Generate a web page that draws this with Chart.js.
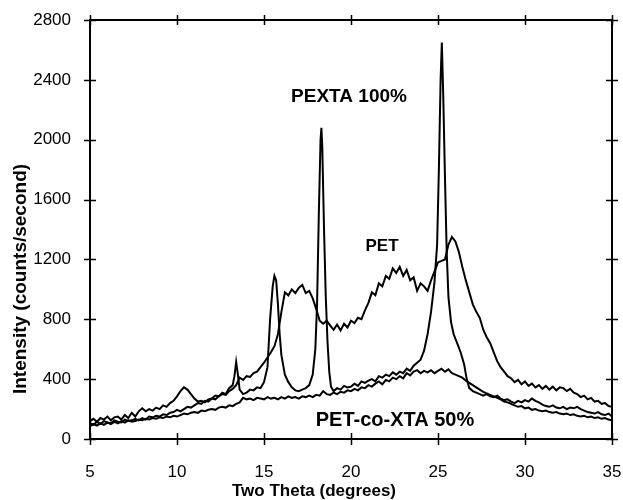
<!DOCTYPE html>
<html>
<head>
<meta charset="utf-8">
<title>XRD - PET / PEXTA</title>
<script src="https://cdn.jsdelivr.net/npm/chart.js@4.4.1/dist/chart.umd.min.js"></script>
<style>
  html, body { margin: 0; padding: 0; background: #fff; }
  #xrdChart { display: block; }
</style>
</head>
<body>
<canvas id="xrdChart" width="623" height="500"></canvas>
<script>
// Diffractograms: intensity (counts/second) against two theta (degrees)

// Axis ticks
const xTicks = [5, 10, 15, 20, 25, 30, 35];
const yTicks = [0, 400, 800, 1200, 1600, 2000, 2400, 2800];

// PET and PET-co-XTA were scanned on the same 0.2 degree grid
const scanStart = 5;
const scanStep = 0.2;

const petCounts = [
  105, 95, 115, 100, 120, 110, 105, 125, 115, 110,
  130, 120, 125, 135, 125, 140, 130, 150, 145, 155,
  150, 165, 160, 175, 180, 195, 185, 200, 215, 210,
  225, 240, 235, 255, 250, 270, 265, 285, 300, 295,
  320, 335, 360, 410, 395, 420, 415, 440, 450, 480,
  510, 545, 580, 620, 700, 850, 980, 960, 1000, 975,
  1010, 1030, 975, 990, 940, 870, 790, 770, 790, 760,
  730, 765, 725, 770, 745, 790, 775, 810, 800, 860,
  910, 980, 960, 1040, 1020, 1090, 1070, 1140, 1110, 1150,
  1090, 1130, 1060, 1080, 990, 1040, 1020, 990, 1060, 1120,
  1180, 1190, 1200, 1300, 1350, 1320, 1250, 1150, 1060, 980,
  900, 850, 810, 730, 680, 640, 580, 520, 480, 450,
  420, 405, 380, 395, 365, 385, 355, 370, 345, 360,
  335, 355, 330, 350, 325, 345, 340, 320, 335, 310,
  300, 280, 290, 265, 275, 250, 255, 235, 240, 220,
  215
];

const copolyCounts = [
  85, 100, 90, 105, 95, 110, 100, 115, 105, 120,
  110, 125, 115, 120, 130, 125, 135, 130, 140, 135,
  145, 140, 150, 145, 155, 150, 160, 170, 165, 175,
  180, 175, 190, 185, 195, 200, 195, 210, 215, 210,
  225, 220, 235, 245, 275, 265, 270, 260, 275, 270,
  265, 280, 270, 275, 265, 280, 270, 285, 275, 280,
  270, 285, 280, 290, 280, 295, 290, 320, 300, 295,
  310, 300, 315, 310, 325, 320, 335, 325, 345, 340,
  360, 350, 370, 385, 365, 395, 385, 410, 400, 420,
  405, 440, 425, 450, 460, 440, 455, 445, 460, 440,
  455, 470, 450, 465, 440, 430, 420, 410, 390, 375,
  360, 345, 330, 315, 305, 295, 285, 275, 265, 250,
  245, 235, 225, 215, 220, 205, 210, 195, 200, 190,
  185, 190, 180, 175, 180, 170, 165, 170, 160, 165,
  155, 150, 155, 145, 150, 140, 145, 135, 140, 130,
  125
];

// PEXTA needs a finer spacing around its sharp reflections
const pextaAngles = [
  5.0, 5.2, 5.4, 5.6, 5.8, 6.0, 6.2, 6.4, 6.6, 6.8,
  7.0, 7.2, 7.4, 7.6, 7.8, 8.0, 8.2, 8.4, 8.6, 8.8,
  9.0, 9.2, 9.4, 9.6, 9.8, 10.0, 10.2, 10.4, 10.6, 10.8,
  11.0, 11.2, 11.4, 11.6, 11.8, 12.0, 12.2, 12.4, 12.6, 12.8,
  13.0, 13.2, 13.3, 13.4, 13.5, 13.6, 13.8, 14.0, 14.2, 14.4,
  14.6, 14.8, 15.0, 15.2, 15.35, 15.5, 15.6, 15.7, 15.8, 15.9,
  16.0, 16.2, 16.4, 16.6, 16.8, 17.0, 17.2, 17.4, 17.6, 17.8,
  17.95, 18.05, 18.15, 18.25, 18.3, 18.35, 18.45, 18.55, 18.65, 18.75,
  18.85, 19.0, 19.2, 19.4, 19.6, 19.8, 20.0, 20.2, 20.4, 20.6,
  20.8, 21.0, 21.2, 21.4, 21.6, 21.8, 22.0, 22.2, 22.4, 22.6,
  22.8, 23.0, 23.2, 23.4, 23.6, 23.8, 24.0, 24.2, 24.4, 24.6,
  24.8, 24.95, 25.05, 25.15, 25.22, 25.3, 25.4, 25.5, 25.6, 25.75,
  25.9, 26.1, 26.3, 26.5, 26.65, 26.8, 27.0, 27.2, 27.4, 27.6,
  27.8, 28.0, 28.2, 28.4, 28.6, 28.8, 29.0, 29.2, 29.4, 29.6,
  29.8, 30.0, 30.2, 30.4, 30.6, 30.8, 31.0, 31.2, 31.4, 31.6,
  31.8, 32.0, 32.2, 32.4, 32.6, 32.8, 33.0, 33.2, 33.4, 33.6,
  33.8, 34.0, 34.2, 34.4, 34.6, 34.8, 35.0
];

const pextaCounts = [
  120, 135, 115, 140, 130, 150, 125, 145, 150, 130,
  160, 140, 175, 150, 185, 205, 185, 200, 190, 210,
  200, 225, 215, 240, 255, 285, 320, 345, 330, 300,
  270, 250, 255, 245, 265, 270, 290, 285, 310, 300,
  340, 360, 420, 515, 430, 330, 300, 310, 330, 325,
  345, 340, 380, 480, 800, 1020, 1090, 1060, 900, 700,
  560, 430, 380, 345, 325, 320, 330, 340, 360, 430,
  600, 900, 1500, 2000, 2080, 1950, 1400, 950, 650, 450,
  350, 320, 340, 330, 355, 345, 350, 370, 355, 385,
  375, 390, 400, 385, 420, 410, 430, 420, 445, 430,
  450, 440, 470, 455, 490, 510, 530, 590, 700, 850,
  1050, 1300, 1800, 2400, 2650, 2300, 1750, 1250, 950, 780,
  700, 640, 580, 500, 400, 340, 320, 310, 300, 290,
  300, 285, 280, 290, 270, 260, 265, 250, 240, 255,
  245, 260, 250, 270, 255, 245, 230, 220, 215, 225,
  210, 205, 215, 200, 210, 205, 215, 200, 190, 180,
  175, 170, 180, 165, 160, 170, 150
];

// Text placed inside the plot
const curveLabels = [
  { text: 'PEXTA 100%', x: 349, y: 97, size: 19 },
  { text: 'PET', x: 382, y: 246, size: 17 },
  { text: 'PET-co-XTA 50%', x: 395, y: 420, size: 20 }
];

const XrdChart = {
  chart: null,
  fontFamily: '"Liberation Sans", Arial, sans-serif',

  init: function() {
    const ctx = document.getElementById('xrdChart');
    if (typeof Chart === 'undefined' || !ctx) return;

    this.chart = new Chart(ctx, {
      type: 'line',
      data: { datasets: this.buildDatasets() },
      options: this.buildOptions(),
      plugins: [this.framePlugin(), this.textPlugin()]
    });
  },

  // turn the count arrays into {x, y} points
  buildDatasets: function() {
    const gridPoints = counts => counts.map((c, i) => ({
      x: +(scanStart + i * scanStep).toFixed(2),
      y: c
    }));
    const pexta = pextaAngles.map((a, i) => ({ x: a, y: pextaCounts[i] }));

    const line = {
      borderColor: '#000',
      borderWidth: 2,
      pointRadius: 0,
      tension: 0,
      fill: false
    };

    return [
      Object.assign({ label: 'PEXTA 100%', data: pexta }, line),
      Object.assign({ label: 'PET', data: gridPoints(petCounts) }, line),
      Object.assign({ label: 'PET-co-XTA 50%', data: gridPoints(copolyCounts) }, line)
    ];
  },

  buildOptions: function() {
    const tickFont = { family: this.fontFamily, size: 17 };

    // label offsets go through tickLength (grid itself is hidden), so
    // tick padding stays 0 and does not push the plot edges inwards
    return {
      responsive: false,
      animation: false,
      devicePixelRatio: 1,
      layout: { padding: { top: 20, right: 11, left: 0, bottom: 0 } },
      plugins: {
        legend: { display: false },
        tooltip: { enabled: false }
      },
      scales: {
        x: {
          type: 'linear',
          min: 5,
          max: 35,
          grid: { display: false, tickLength: 23 },
          border: { display: false },
          ticks: {
            color: '#000',
            font: tickFont,
            padding: 0,
            maxRotation: 0,
            callback: v => String(v)
          },
          afterBuildTicks: scale => { scale.ticks = xTicks.map(v => ({ value: v })); },
          afterFit: scale => { scale.height = 61; }
        },
        y: {
          type: 'linear',
          min: 0,
          max: 2800,
          grid: { display: false, tickLength: 19 },
          border: { display: false },
          ticks: {
            color: '#000',
            font: tickFont,
            padding: 0,
            callback: v => String(v)
          },
          afterBuildTicks: scale => { scale.ticks = yTicks.map(v => ({ value: v })); },
          afterFit: scale => { scale.width = 90; }
        }
      }
    };
  },

  // box round the plot with tick marks crossing every side
  framePlugin: function() {
    return {
      id: 'xrdFrame',
      afterDraw: chart => {
        const c = chart.ctx;
        const a = chart.chartArea;
        const xs = chart.scales.x;
        const ys = chart.scales.y;
        const t = 6;

        c.save();
        c.strokeStyle = '#000';
        c.lineWidth = 2;
        c.strokeRect(a.left, a.top, a.right - a.left, a.bottom - a.top);

        c.lineWidth = 1.5;
        c.beginPath();
        xTicks.forEach(v => {
          const px = Math.round(xs.getPixelForValue(v)) + 0.5;
          c.moveTo(px, a.bottom - t); c.lineTo(px, a.bottom + t);
          c.moveTo(px, a.top - t + 1); c.lineTo(px, a.top + t - 1);
        });
        yTicks.forEach(v => {
          const py = Math.round(ys.getPixelForValue(v)) + 0.5;
          c.moveTo(a.left - t, py); c.lineTo(a.left + t, py);
          c.moveTo(a.right - t, py); c.lineTo(a.right + t, py);
        });
        c.stroke();
        c.restore();
      }
    };
  },

  // axis titles and curve names
  textPlugin: function() {
    const family = this.fontFamily;
    return {
      id: 'xrdText',
      afterDraw: chart => {
        const c = chart.ctx;
        c.save();
        c.fillStyle = '#000';
        c.textAlign = 'center';
        c.textBaseline = 'middle';

        curveLabels.forEach(l => {
          c.font = 'bold ' + l.size + 'px ' + family;
          c.fillText(l.text, l.x, l.y);
        });

        c.font = 'bold 17px ' + family;
        c.fillText('Two Theta (degrees)', 314, 491);

        c.translate(21, 279);
        c.rotate(-Math.PI / 2);
        c.font = 'bold 19px ' + family;
        c.fillText('Intensity (counts/second)', 0, 0);
        c.restore();
      }
    };
  }
};

document.addEventListener('DOMContentLoaded', function() {
  XrdChart.init();
});
</script>
</body>
</html>
